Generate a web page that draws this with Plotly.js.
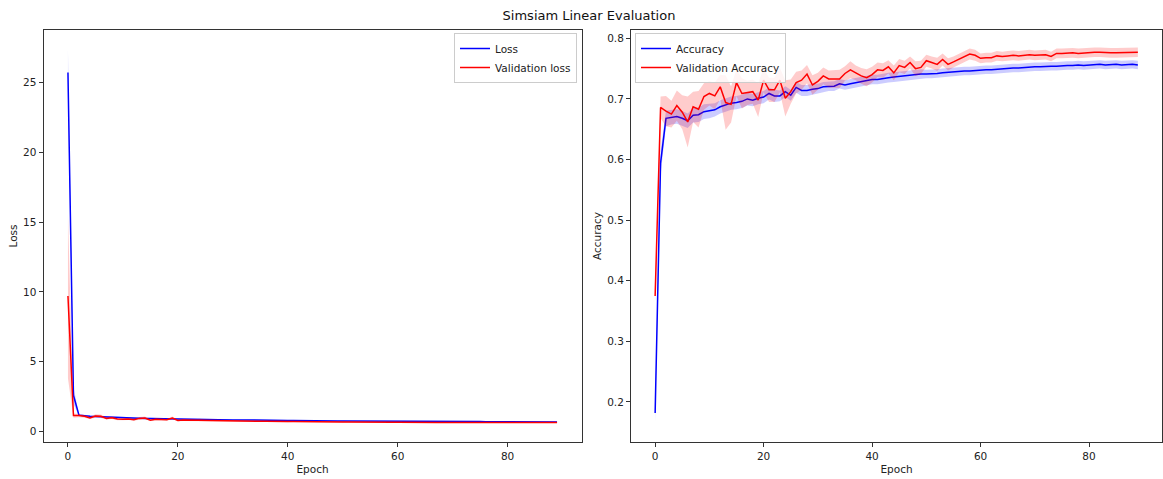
<!DOCTYPE html>
<html>
<head>
<meta charset="utf-8">
<script src="https://cdn.plot.ly/plotly-3.0.1.min.js"></script>
<style>html,body{margin:0;padding:0;background:#fff;}#chart{width:1163px;height:479px;}</style>
</head>
<body>
<div id="chart"></div>
<script>
const epochs = Array.from({length: 90}, (_, i) => i);

const loss = [25.7, 2.6, 1.18, 1.12, 1.1, 1.08, 1.06, 1.04, 1.02, 1.0, 0.99, 0.98, 0.97, 0.96, 0.95, 0.94, 0.93, 0.92, 0.92, 0.91, 0.9, 0.89, 0.89, 0.88, 0.87, 0.87, 0.86, 0.86, 0.85, 0.85, 0.84, 0.84, 0.83, 0.83, 0.82, 0.82, 0.81, 0.81, 0.81, 0.8, 0.8, 0.8, 0.79, 0.79, 0.79, 0.78, 0.78, 0.78, 0.77, 0.77, 0.77, 0.77, 0.76, 0.76, 0.76, 0.76, 0.75, 0.75, 0.75, 0.75, 0.74, 0.74, 0.74, 0.74, 0.74, 0.73, 0.73, 0.73, 0.73, 0.73, 0.72, 0.72, 0.72, 0.72, 0.72, 0.72, 0.71, 0.71, 0.71, 0.71, 0.71, 0.71, 0.71, 0.7, 0.7, 0.7, 0.7, 0.7, 0.7, 0.7];
const lossStd = [1.7, 0.6, 0.08, 0.06, 0.05, 0.05, 0.05, 0.05, 0.05, 0.05, 0.05, 0.05, 0.05, 0.05, 0.05, 0.05, 0.05, 0.05, 0.05, 0.05, 0.04, 0.04, 0.04, 0.04, 0.04, 0.04, 0.04, 0.04, 0.04, 0.04, 0.04, 0.04, 0.04, 0.04, 0.04, 0.04, 0.04, 0.04, 0.04, 0.04, 0.03, 0.03, 0.03, 0.03, 0.03, 0.03, 0.03, 0.03, 0.03, 0.03, 0.03, 0.03, 0.03, 0.03, 0.03, 0.03, 0.03, 0.03, 0.03, 0.03, 0.03, 0.03, 0.03, 0.03, 0.03, 0.03, 0.03, 0.03, 0.03, 0.03, 0.03, 0.03, 0.03, 0.03, 0.03, 0.03, 0.03, 0.03, 0.03, 0.03, 0.03, 0.03, 0.03, 0.03, 0.03, 0.03, 0.03, 0.03, 0.03, 0.03];

const valLoss = [9.7, 1.15, 1.15, 1.1, 0.98, 1.12, 1.1, 0.95, 1.0, 0.9, 0.88, 0.9, 0.86, 0.95, 0.98, 0.82, 0.88, 0.86, 0.85, 0.98, 0.8, 0.83, 0.82, 0.81, 0.85, 0.8, 0.79, 0.78, 0.77, 0.79, 0.76, 0.77, 0.75, 0.76, 0.75, 0.74, 0.75, 0.73, 0.74, 0.73, 0.72, 0.73, 0.72, 0.71, 0.72, 0.71, 0.7, 0.71, 0.7, 0.7, 0.69, 0.7, 0.69, 0.69, 0.68, 0.69, 0.68, 0.68, 0.68, 0.67, 0.68, 0.67, 0.67, 0.67, 0.67, 0.66, 0.67, 0.66, 0.66, 0.66, 0.66, 0.66, 0.66, 0.66, 0.65, 0.66, 0.65, 0.65, 0.65, 0.65, 0.65, 0.65, 0.65, 0.65, 0.65, 0.65, 0.65, 0.65, 0.65, 0.65];
const valLossStd = [5.9, 0.15, 0.12, 0.1, 0.08, 0.12, 0.12, 0.08, 0.1, 0.08, 0.07, 0.07, 0.07, 0.1, 0.1, 0.06, 0.07, 0.06, 0.06, 0.1, 0.06, 0.06, 0.06, 0.06, 0.07, 0.05, 0.05, 0.05, 0.05, 0.05, 0.05, 0.05, 0.05, 0.05, 0.05, 0.04, 0.04, 0.04, 0.04, 0.04, 0.04, 0.04, 0.04, 0.04, 0.04, 0.04, 0.04, 0.04, 0.04, 0.04, 0.03, 0.03, 0.03, 0.03, 0.03, 0.03, 0.03, 0.03, 0.03, 0.03, 0.03, 0.03, 0.03, 0.03, 0.03, 0.03, 0.03, 0.03, 0.03, 0.03, 0.03, 0.03, 0.03, 0.03, 0.03, 0.03, 0.03, 0.03, 0.03, 0.03, 0.03, 0.03, 0.03, 0.03, 0.03, 0.03, 0.03, 0.03, 0.03, 0.03];

const acc = [0.182, 0.594, 0.668, 0.670, 0.671, 0.668, 0.664, 0.673, 0.674, 0.679, 0.680, 0.682, 0.687, 0.690, 0.693, 0.694, 0.696, 0.700, 0.698, 0.701, 0.703, 0.709, 0.705, 0.705, 0.712, 0.706, 0.719, 0.714, 0.714, 0.716, 0.717, 0.720, 0.721, 0.721, 0.725, 0.723, 0.725, 0.727, 0.728, 0.730, 0.732, 0.732, 0.734, 0.735, 0.736, 0.737, 0.739, 0.739, 0.740, 0.741, 0.741, 0.741, 0.742, 0.743, 0.744, 0.744, 0.745, 0.746, 0.746, 0.747, 0.747, 0.748, 0.748, 0.749, 0.750, 0.750, 0.751, 0.751, 0.752, 0.753, 0.753, 0.753, 0.754, 0.754, 0.754, 0.755, 0.755, 0.755, 0.756, 0.755, 0.756, 0.756, 0.757, 0.756, 0.757, 0.757, 0.756, 0.757, 0.757, 0.756];
const accStd = [0.016, 0.02, 0.013, 0.012, 0.012, 0.012, 0.012, 0.012, 0.012, 0.012, 0.012, 0.011, 0.011, 0.011, 0.011, 0.011, 0.011, 0.011, 0.010, 0.010, 0.010, 0.010, 0.010, 0.009, 0.009, 0.009, 0.009, 0.009, 0.009, 0.009, 0.008, 0.008, 0.008, 0.008, 0.008, 0.008, 0.008, 0.008, 0.008, 0.008, 0.008, 0.008, 0.008, 0.008, 0.008, 0.008, 0.008, 0.008, 0.008, 0.008, 0.007, 0.007, 0.007, 0.007, 0.007, 0.007, 0.007, 0.007, 0.007, 0.007, 0.007, 0.007, 0.007, 0.007, 0.007, 0.007, 0.007, 0.007, 0.007, 0.007, 0.007, 0.007, 0.007, 0.007, 0.007, 0.007, 0.007, 0.007, 0.007, 0.007, 0.007, 0.007, 0.007, 0.007, 0.007, 0.007, 0.007, 0.007, 0.007, 0.007];

const valAcc = [0.375, 0.686, 0.680, 0.675, 0.689, 0.678, 0.662, 0.687, 0.683, 0.704, 0.709, 0.705, 0.720, 0.694, 0.691, 0.727, 0.709, 0.710, 0.712, 0.698, 0.731, 0.715, 0.715, 0.731, 0.701, 0.712, 0.727, 0.731, 0.741, 0.723, 0.729, 0.738, 0.733, 0.733, 0.733, 0.742, 0.748, 0.743, 0.738, 0.735, 0.740, 0.748, 0.747, 0.753, 0.743, 0.755, 0.752, 0.760, 0.750, 0.752, 0.763, 0.760, 0.757, 0.765, 0.757, 0.761, 0.765, 0.770, 0.774, 0.772, 0.767, 0.768, 0.768, 0.771, 0.770, 0.771, 0.772, 0.771, 0.772, 0.773, 0.772, 0.773, 0.773, 0.770, 0.775, 0.775, 0.776, 0.776, 0.775, 0.776, 0.776, 0.777, 0.777, 0.776, 0.776, 0.776, 0.776, 0.777, 0.777, 0.777];
const valAccStd = [0.01, 0.018, 0.025, 0.022, 0.025, 0.028, 0.042, 0.025, 0.03, 0.022, 0.02, 0.022, 0.02, 0.045, 0.03, 0.022, 0.025, 0.02, 0.02, 0.028, 0.02, 0.02, 0.02, 0.02, 0.03, 0.02, 0.018, 0.016, 0.015, 0.016, 0.014, 0.014, 0.014, 0.015, 0.015, 0.012, 0.014, 0.012, 0.013, 0.014, 0.013, 0.012, 0.012, 0.011, 0.012, 0.011, 0.011, 0.01, 0.012, 0.011, 0.01, 0.01, 0.011, 0.01, 0.01, 0.009, 0.009, 0.009, 0.009, 0.009, 0.008, 0.008, 0.008, 0.008, 0.008, 0.008, 0.008, 0.008, 0.008, 0.008, 0.008, 0.008, 0.008, 0.008, 0.008, 0.008, 0.008, 0.008, 0.008, 0.008, 0.008, 0.008, 0.008, 0.008, 0.008, 0.008, 0.008, 0.008, 0.008, 0.008];

const xTicks = [0, 20, 40, 60, 80];
const lossTicks = [0, 5, 10, 15, 20, 25];
const accTicks = [0.2, 0.3, 0.4, 0.5, 0.6, 0.7, 0.8];

const BLUE = '#0000ff', RED = '#ff0000';
const BLUE_FILL = 'rgba(0,0,255,0.2)', RED_FILL = 'rgba(255,0,0,0.2)';

function band(mean, std, fill, xa, ya) {
  const lo = mean.map((v, i) => v - std[i]);
  const hi = mean.map((v, i) => v + std[i]);
  return [
    {x: epochs, y: lo, xaxis: xa, yaxis: ya, mode: 'lines', line: {width: 0, color: fill}, showlegend: false, hoverinfo: 'skip'},
    {x: epochs, y: hi, xaxis: xa, yaxis: ya, mode: 'lines', line: {width: 0, color: fill}, fill: 'tonexty', fillcolor: fill, showlegend: false, hoverinfo: 'skip'}
  ];
}
function line(mean, color, name, xa, ya, leg) {
  return {x: epochs, y: mean, xaxis: xa, yaxis: ya, mode: 'lines', name: name, line: {color: color, width: 1.5}, legend: leg};
}

const traces = [
  ...band(loss, lossStd, BLUE_FILL, 'x', 'y'),
  line(loss, BLUE, 'Loss', 'x', 'y', 'legend'),
  ...band(valLoss, valLossStd, RED_FILL, 'x', 'y'),
  line(valLoss, RED, 'Validation loss', 'x', 'y', 'legend'),
  ...band(acc, accStd, BLUE_FILL, 'x2', 'y2'),
  line(acc, BLUE, 'Accuracy', 'x2', 'y2', 'legend2'),
  ...band(valAcc, valAccStd, RED_FILL, 'x2', 'y2'),
  line(valAcc, RED, 'Validation Accuracy', 'x2', 'y2', 'legend2')
];

const W = 1163, H = 479;
const font = {family: 'DejaVu Sans, sans-serif', size: 10, color: '#222'};
const axisBase = {
  showline: true, mirror: true, linecolor: '#333', linewidth: 1,
  ticks: 'outside', ticklen: 4, tickwidth: 1, tickcolor: '#333',
  showgrid: false, zeroline: false, tickfont: {size: 10.5, color: '#222'}
};
const yDom = [1 - 442 / H, 1 - 30 / H];
const legBase = {yanchor: 'top', y: 1 - 33 / H, bgcolor: 'rgba(255,255,255,0.8)', bordercolor: '#ccc', borderwidth: 1, font: {size: 10.5, color: '#222'}, itemwidth: 30, tracegroupgap: 0, traceorder: 'normal'};

const layout = {
  width: W, height: H,
  margin: {l: 0, r: 0, t: 0, b: 0},
  paper_bgcolor: '#fff', plot_bgcolor: '#fff',
  font: font,
  title: {text: 'Simsiam Linear Evaluation', x: 589 / W, xanchor: 'center', y: 1 - 15 / H, yanchor: 'middle', font: {size: 13, color: '#111'}},
  xaxis: Object.assign({}, axisBase, {domain: [43.5 / W, 581.5 / W], range: [-4.45, 93.45], tickvals: xTicks, anchor: 'y', title: {text: 'Epoch', standoff: 5, font: {size: 10.5}}}),
  yaxis: Object.assign({}, axisBase, {domain: yDom, range: [-0.74, 28.74], tickvals: lossTicks, anchor: 'x', title: {text: 'Loss', standoff: 3, font: {size: 10.5}}}),
  xaxis2: Object.assign({}, axisBase, {domain: [631 / W, 1162 / W], range: [-4.45, 93.45], tickvals: xTicks, anchor: 'y2', title: {text: 'Epoch', standoff: 5, font: {size: 10.5}}}),
  yaxis2: Object.assign({}, axisBase, {domain: yDom, range: [0.134, 0.8137], tickvals: accTicks, ticktext: accTicks.map(v => v.toFixed(1)), anchor: 'x2', title: {text: 'Accuracy', standoff: 3, font: {size: 10.5}}}),
  legend: Object.assign({}, legBase, {x: 577 / W, xanchor: 'right'}),
  legend2: Object.assign({}, legBase, {x: 635 / W, xanchor: 'left'}),
  hovermode: false
};

Plotly.newPlot('chart', traces, layout, {displayModeBar: false, staticPlot: true});
</script>
</body>
</html>
